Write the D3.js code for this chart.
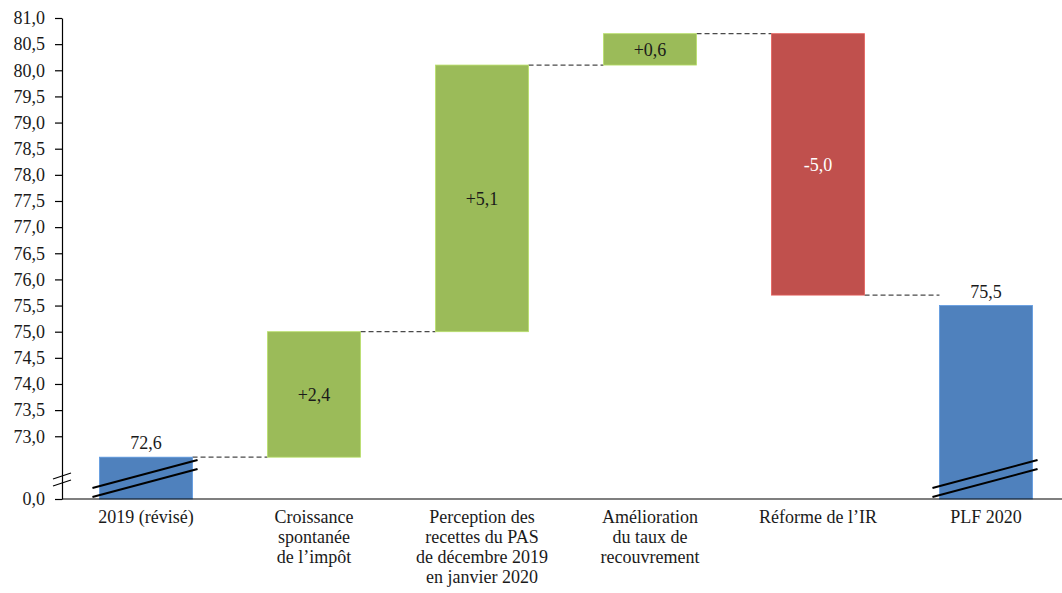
<!DOCTYPE html>
<html>
<head>
<meta charset="utf-8">
<script src="https://cdn.jsdelivr.net/npm/d3@7"></script>
<style>
  html, body { margin: 0; padding: 0; background: #fff; }
  svg text { font-family: "Liberation Serif", "DejaVu Serif", serif; fill: #1a1a1a; }
</style>
</head>
<body>
<svg id="chart" width="1062" height="593"></svg>
<script>
// Étapes du passage de 2019 (révisé) au PLF 2020, en Md€
const categories = [
  ["2019 (révisé)"],
  ["Croissance", "spontanée", "de l’impôt"],
  ["Perception des", "recettes du PAS", "de décembre 2019", "en janvier 2020"],
  ["Amélioration", "du taux de", "recouvrement"],
  ["Réforme de l’IR"],
  ["PLF 2020"]
];
const kinds = ["total", "delta", "delta", "delta", "delta", "total"];
const values = [72.6, 2.4, 5.1, 0.6, -5.0, 75.5];
const yTicks = [0, 73, 73.5, 74, 74.5, 75, 75.5, 76, 76.5, 77, 77.5, 78, 78.5, 79, 79.5, 80, 80.5, 81];
const breakValue = 71.8;

const colors = { total: "#4F81BD", up: "#9BBB59", down: "#C0504D" };

const svg = d3.select("#chart");
const mLeft = 62, mTop = 18, mBottom = 499, mRight = 1070;
const fontSize = 18;

const fr = d3.formatLocale({ decimal: ",", thousands: " ", grouping: [3], currency: ["", " €"], minus: "-" });
const fmt = fr.format(".1f");
const fmtSigned = v => (v > 0 ? "+" : "") + fmt(v);

// Axe vertical interrompu : 0 est ramené au bas du segment [71,8 ; 81]
const y = d3.scaleLinear()
  .domain([0, breakValue, 81])
  .range([mBottom, mBottom, mTop]);

const x = d3.scaleBand()
  .domain(d3.range(categories.length))
  .range([mLeft, mRight])
  .paddingInner(0.446)
  .paddingOuter(0.223);

// Calcul des segments de la cascade
let running = 0;
const bars = values.map((v, i) => {
  let y0, y1, color;
  if (kinds[i] === "total") {
    y0 = 0; y1 = v; running = v; color = colors.total;
  } else {
    y0 = running; y1 = running + v; running = y1; color = v >= 0 ? colors.up : colors.down;
  }
  return { i, v, kind: kinds[i], y0, y1, color };
});

// Traits pointillés de liaison entre barres
const g = svg.append("g");
bars.slice(0, -1).forEach(b => {
  g.append("line")
    .attr("x1", x(b.i) + x.bandwidth())
    .attr("x2", x(b.i + 1))
    .attr("y1", y(b.y1)).attr("y2", y(b.y1))
    .attr("stroke", "#4a4a4a").attr("stroke-width", 1.2)
    .attr("stroke-dasharray", "5,3");
});

// Barres
g.selectAll("rect.bar").data(bars).join("rect")
  .attr("class", "bar")
  .attr("x", d => x(d.i))
  .attr("width", x.bandwidth())
  .attr("y", d => y(Math.max(d.y0, d.y1)))
  .attr("height", d => Math.abs(y(d.y0) - y(d.y1)))
  .attr("fill", d => d.color)
  .attr("stroke", d => d3.color(d.color).brighter(0.5))
  .attr("stroke-width", 0.8);

// Marques d'interruption sur les barres de total
bars.filter(d => d.kind === "total").forEach(d => {
  const xa = x(d.i) - 7, xb = x(d.i) + x.bandwidth() + 5;
  [0, 9].forEach(off => {
    g.append("line")
      .attr("x1", xa).attr("y1", mBottom - 11 + off)
      .attr("x2", xb).attr("y2", mBottom - 39 + off)
      .attr("stroke", "#000").attr("stroke-width", 2);
  });
});

// Axe des ordonnées
const yAxis = d3.axisLeft(y).tickValues(yTicks).tickSize(7).tickSizeOuter(0).tickFormat(fmt);
const ya = svg.append("g").attr("transform", `translate(${mLeft},0)`).call(yAxis)
  .style("font-family", '"Liberation Serif", serif');
ya.select(".domain").attr("stroke", "#000").attr("stroke-width", 1.2);
ya.selectAll(".tick line").attr("stroke", "#000").attr("stroke-width", 1.2);
ya.selectAll(".tick text").attr("x", -17).attr("font-size", fontSize).attr("fill", "#1a1a1a");

// Interruption de l'axe vertical
const bk = svg.append("g");
[0, 7].forEach(off => {
  bk.append("line")
    .attr("x1", mLeft - 9).attr("y1", mBottom - 20 + off)
    .attr("x2", mLeft + 9).attr("y2", mBottom - 26 + off)
    .attr("stroke", "#000").attr("stroke-width", 1.3);
});

// Axe horizontal
svg.append("line")
  .attr("x1", mLeft).attr("x2", 1062)
  .attr("y1", mBottom).attr("y2", mBottom)
  .attr("stroke", "#000").attr("stroke-width", 1.2);

// Libellés des catégories
categories.forEach((lines, i) => {
  const cx = x(i) + x.bandwidth() / 2;
  const t = svg.append("text")
    .attr("x", cx)
    .attr("y", mBottom + 24)
    .attr("text-anchor", "middle")
    .attr("font-size", fontSize);
  lines.forEach((ln, k) => {
    t.append("tspan").attr("x", cx).attr("dy", k === 0 ? 0 : 20).text(ln);
  });
});

// Étiquettes de valeurs
bars.forEach(d => {
  const cx = x(d.i) + x.bandwidth() / 2;
  if (d.kind === "total") {
    svg.append("text").attr("x", cx).attr("y", y(d.y1) - 8)
      .attr("text-anchor", "middle").attr("font-size", fontSize).text(fmt(d.v));
  } else {
    svg.append("text").attr("x", cx).attr("y", (y(d.y0) + y(d.y1)) / 2)
      .attr("dy", "0.35em")
      .attr("text-anchor", "middle").attr("font-size", fontSize)
      .style("fill", d.v < 0 ? "#fff" : "#1a1a1a")
      .text(fmtSigned(d.v));
  }
});
</script>
</body>
</html>
